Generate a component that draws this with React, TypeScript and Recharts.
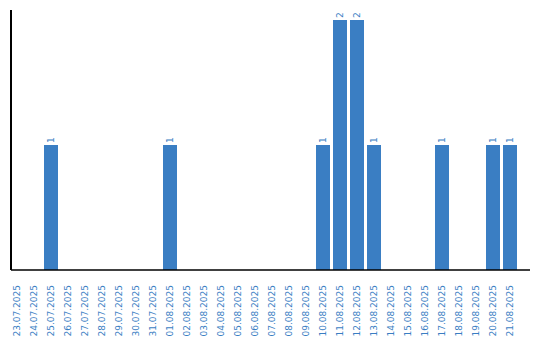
import React from "react";
import { BarChart, Bar, XAxis, YAxis, LabelList } from "recharts";

const dates = [
  "23.07.2025", "24.07.2025", "25.07.2025", "26.07.2025", "27.07.2025",
  "28.07.2025", "29.07.2025", "30.07.2025", "31.07.2025", "01.08.2025",
  "02.08.2025", "03.08.2025", "04.08.2025", "05.08.2025", "06.08.2025",
  "07.08.2025", "08.08.2025", "09.08.2025", "10.08.2025", "11.08.2025",
  "12.08.2025", "13.08.2025", "14.08.2025", "15.08.2025", "16.08.2025",
  "17.08.2025", "18.08.2025", "19.08.2025", "20.08.2025", "21.08.2025",
];
const counts = [
  0, 0, 1, 0, 0,
  0, 0, 0, 0, 1,
  0, 0, 0, 0, 0,
  0, 0, 0, 1, 2,
  2, 1, 0, 0, 0,
  1, 0, 0, 1, 1,
];

const data = dates.map((d, i) => ({ date: d, value: counts[i] }));

const BLUE = "#3a7ec3";
const FONT = "'DejaVu Sans', Verdana, sans-serif";

const Tick = (props: any) => {
  const { x, y, payload } = props;
  return (
    <g transform={`translate(${x},${y + 7}) rotate(-90)`}>
      <text x={0} y={0} dy="0.36em" textAnchor="end" fill={BLUE} fontSize={9} fontFamily={FONT}>
        {payload.value}
      </text>
    </g>
  );
};

const ValueLabel = (props: any) => {
  const { x, y, width, value } = props;
  if (!value) return null;
  const cx = x + width / 2;
  const ty = y - 2;
  return (
    <g transform={`translate(${cx},${ty}) rotate(-90)`}>
      <text x={0} y={0} dy="0.36em" textAnchor="start" fill={BLUE} fontSize={9} fontFamily={FONT}>
        {value}
      </text>
    </g>
  );
};

export default function App() {
  return (
    <div style={{ position: "absolute", left: 0, top: 0, width: 540, height: 340, background: "#fff" }}>
      <BarChart
        width={540}
        height={340}
        data={data}
        margin={{ top: 10, right: 10, bottom: 0, left: 10 }}
        barCategoryGap={1.5}
      >
        <XAxis
          dataKey="date"
          interval={0}
          height={70}
          tick={<Tick />}
          tickLine={false}
          axisLine={{ stroke: "#000", strokeWidth: 1.5 }}
          padding={{ left: -2.5, right: 11.5 }}
        />
        <YAxis
          width={1}
          domain={[0, 2.08]}
          tick={false}
          tickLine={false}
          axisLine={{ stroke: "#000", strokeWidth: 2 }}
        />
        <Bar dataKey="value" fill={BLUE} isAnimationActive={false}>
          <LabelList dataKey="value" content={<ValueLabel />} />
        </Bar>
      </BarChart>
    </div>
  );
}
